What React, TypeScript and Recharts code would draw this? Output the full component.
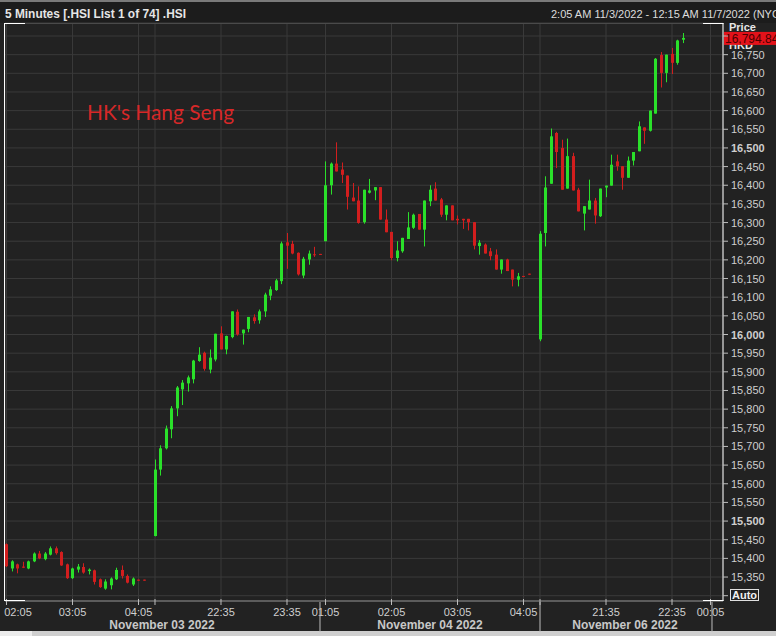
import React from 'react';
import { ComposedChart, Bar, XAxis, YAxis, CartesianGrid, ReferenceLine } from 'recharts';

const W = 776;
const H = 636;
const GREEN = '#2ae02a';
const RED = '#d21e1e';
const GRID = '#3a3a3a';
const TEXT = '#cfcfcf';
const FONT = '"Liberation Sans", Arial, sans-serif';

// 5-minute bars, slot index 0..123 (null = empty slot)
const opens: (number | null)[] = [
  15438, 15373, 15384, 15378, 15373, 15392, 15413, 15398, 15410, 15427,
  15417, 15384, 15347, 15370, 15377, 15366, 15368, 15344, 15319, 15328,
  15344, 15369, 15353, 15330, 15343, 15343, null, 15460, 15638, 15695,
  15746, 15802, 15853, 15869, 15880, 15929, 15951, 15906, 15933, 16003,
  15960, 15993, 16061, 16003, 16015, 16046, 16038, 16062, 16104, 16119,
  16143, 16247, 16243, 16219, 16158, 16201, 16215, 16216, 16250, 16400,
  16458, 16442, 16426, 16367, 16359, 16301, 16380, 16386, 16395, 16308,
  16275, 16205, 16223, 16256, 16286, 16323, 16281, 16357, 16391, 16362,
  16321, 16346, 16310, 16310, 16310, 16301, 16237, 16241, 16223, 16214,
  16174, 16201, 16174, 16147, 16157, 16163, null, 15987, 16272, 16404,
  16540, 16500, 16391, 16478, 16388, 16324, 16335, 16359, 16317, 16394,
  16399, 16464, 16451, 16420, 16466, 16491, 16555, 16546, 16592, 16749,
  16701, 16752, 16728, 16790,
];
const highs: (number | null)[] = [
  15440, 15395, 15386, 15391, 15394, 15416, 15420, 15417, 15432, 15432,
  15419, 15386, 15375, 15385, 15387, 15373, 15370, 15346, 15344, 15349,
  15375, 15381, 15357, 15349, 15343, 15343, null, 15665, 15703, 15756,
  15808, 15862, 15878, 15890, 15932, 15966, 15954, 15960, 16002, 16022,
  15997, 16062, 16067, 16013, 16047, 16054, 16067, 16112, 16129, 16149,
  16249, 16272, 16251, 16220, 16208, 16225, 16235, 16216, 16464, 16461,
  16515, 16461, 16426, 16406, 16397, 16388, 16417, 16395, 16395, 16335,
  16275, 16250, 16259, 16328, 16324, 16323, 16359, 16400, 16408, 16366,
  16346, 16346, 16319, 16310, 16310, 16301, 16253, 16244, 16232, 16228,
  16201, 16203, 16174, 16165, 16157, 16163, null, 16277, 16424, 16552,
  16543, 16522, 16525, 16487, 16393, 16344, 16415, 16366, 16391, 16399,
  16482, 16482, 16451, 16477, 16489, 16571, 16555, 16600, 16741, 16757,
  16750, 16768, 16790, 16808,
];
const lows: (number | null)[] = [
  15377, 15365, 15360, 15374, 15371, 15390, 15398, 15395, 15408, 15410,
  15380, 15345, 15345, 15362, 15359, 15357, 15330, 15321, 15316, 15317,
  15342, 15346, 15333, 15326, 15342, 15342, null, 15459, 15622, 15692,
  15722, 15781, 15811, 15847, 15869, 15927, 15903, 15896, 15928, 15960,
  15947, 15990, 15997, 15973, 16006, 16029, 16029, 16047, 16092, 16117,
  16135, 16176, 16215, 16158, 16151, 16187, 16208, 16215, 16250, 16375,
  16437, 16406, 16335, 16357, 16297, 16297, 16378, 16360, 16308, 16274,
  16199, 16196, 16219, 16256, 16283, 16281, 16236, 16344, 16359, 16315,
  16306, 16306, 16295, 16283, 16279, 16228, 16214, 16217, 16199, 16174,
  16163, 16170, 16129, 16129, 16156, 16162, null, 15982, 16236, 16404,
  16446, 16388, 16391, 16386, 16330, 16279, 16335, 16297, 16315, 16368,
  16399, 16439, 16388, 16420, 16453, 16491, 16511, 16544, 16592, 16662,
  16676, 16698, 16723, 16781,
];
const closes: (number | null)[] = [
  15379, 15392, 15373, 15375, 15392, 15413, 15400, 15413, 15427, 15414,
  15381, 15347, 15373, 15378, 15362, 15370, 15337, 15323, 15338, 15346,
  15369, 15353, 15335, 15346, 15342, 15342, null, 15638, 15695, 15748,
  15802, 15858, 15871, 15885, 15930, 15946, 15908, 15938, 16002, 15960,
  15996, 16062, 16000, 16013, 16047, 16036, 16062, 16107, 16121, 16145,
  16244, 16238, 16217, 16161, 16203, 16217, 16213, 16215, 16400, 16458,
  16437, 16428, 16369, 16357, 16299, 16388, 16386, 16395, 16308, 16274,
  16205, 16225, 16259, 16287, 16321, 16281, 16359, 16388, 16359, 16321,
  16346, 16306, 16306, 16306, 16301, 16238, 16246, 16217, 16210, 16174,
  16201, 16170, 16147, 16156, 16156, 16162, null, 16270, 16394, 16531,
  16489, 16388, 16478, 16386, 16330, 16344, 16359, 16319, 16391, 16399,
  16455, 16451, 16420, 16466, 16489, 16558, 16546, 16600, 16739, 16701,
  16750, 16728, 16788, 16794.84,
];

const timeTicks = [0, 12, 24, 27, 39, 51, 58, 70, 82, 94, 97, 109, 121, 128];
const timeLabels = ['02:05', '03:05', '04:05', '', '22:35', '23:35', '01:05', '02:05', '03:05', '04:05', '', '21:35', '22:35', '00:05'];
const dateCenters = [28.27, 77, 112.45];
const dateLabels = ['November 03 2022', 'November 04 2022', 'November 06 2022'];
const dayDividers = [57, 97, 128.27];
const priceTicks = [
  15300, 15350, 15400, 15450, 15500, 15550, 15600, 15650, 15700, 15750, 15800,
  15850, 15900, 15950, 16000, 16050, 16100, 16150, 16200, 16250, 16300, 16350,
  16400, 16450, 16500, 16550, 16600, 16650, 16700, 16750, 16800,
];
const boldPrices = [15500, 16000, 16500];
const lastPrice = 16794.84;

const data = opens.map((o, i) =>
  o == null
    ? { i, range: null }
    : { i, o, h: highs[i], l: lows[i], c: closes[i], range: [lows[i], highs[i]] }
);

const Candle = (props: any) => {
  const { x, y, width, height, payload } = props;
  if (!payload || payload.o == null) return null;
  const { o, h, l, c } = payload;
  const top0 = height >= 0 ? y : y + height;
  const hh = Math.abs(height);
  const span = h - l;
  const yOf = (v: number) => (span > 0 ? top0 + ((h - v) / span) * hh : top0);
  const color = c >= o ? GREEN : RED;
  const cx = x + width / 2;
  const bx = Math.round(cx - 1.5);
  const bt = yOf(Math.max(o, c));
  const bb = yOf(Math.min(o, c));
  return (
    <g>
      <rect x={bx + 1} y={top0} width={1} height={Math.max(hh, 1)} fill={color} />
      <rect x={bx} y={bt} width={3} height={Math.max(bb - bt, 1)} fill={color} />
    </g>
  );
};

const TimeTick = (props: any) => {
  const { x, payload } = props;
  const idx = timeTicks.indexOf(payload.value);
  const label = idx >= 0 ? timeLabels[idx] : '';
  // keep the first label inside the frame, as the terminal does
  const lx = Math.max(x, 18);
  return (
    <g>
      <line x1={x} x2={x} y1={599} y2={605} stroke="#bdbdbd" />
      {label && (
        <text x={lx} y={616} textAnchor="middle" fill={TEXT} fontSize={11} fontFamily={FONT}>
          {label}
        </text>
      )}
    </g>
  );
};

const DateTick = (props: any) => {
  const { x, payload } = props;
  const v = payload.value;
  if (dayDividers.includes(v)) {
    return <line x1={x} x2={x} y1={602} y2={632} stroke="#bdbdbd" />;
  }
  const idx = dateCenters.indexOf(v);
  return (
    <text x={x} y={629} textAnchor="middle" fill="#c8c8c8" fontSize={12} fontWeight="bold" fontFamily={FONT}>
      {dateLabels[idx]}
    </text>
  );
};

const PriceTick = (props: any) => {
  const { y, payload } = props;
  const v = payload.value;
  const show = v >= 15350 && v <= 16750;
  return (
    <g>
      <line x1={723} x2={728} y1={y} y2={y} stroke="#bdbdbd" />
      {show && (
        <text
          x={731}
          y={y + 4}
          fill={TEXT}
          fontSize={11}
          fontFamily={FONT}
          fontWeight={boldPrices.includes(v) ? 'bold' : 'normal'}
        >
          {v.toLocaleString('en-US')}
        </text>
      )}
    </g>
  );
};

const PriceTag = (props: any) => {
  const vb = props.viewBox || {};
  const x = (vb.x || 0) + (vb.width || 0) + 1;
  const y = vb.y || 0;
  return (
    <g>
      <rect x={x} y={y - 6} width={60} height={13} fill="#e3121a" />
      <text x={x + 1} y={y + 5} fill="#4a0000" fontSize={12} fontFamily={FONT}>
        {lastPrice.toLocaleString('en-US', { minimumFractionDigits: 2 })}
      </text>
    </g>
  );
};

export default function App() {
  return (
    <div style={{ position: 'absolute', left: 0, top: 0, width: W, height: H, background: '#222222', overflow: 'hidden' }}>
      <svg width={W} height={H} style={{ position: 'absolute', left: 0, top: 0 }}>
        <rect x={0} y={0} width={W} height={23} fill="#1c1c1c" />
        <rect x={0} y={0} width={W} height={2} fill="#7a7a7a" />
        <text x={5} y={18} fill="#e6e6e6" fontSize={12} fontWeight="bold" fontFamily={FONT} textLength={181} lengthAdjust="spacingAndGlyphs">
          5 Minutes [.HSI List 1 of 74] .HSI
        </text>
        <text x={551} y={18} fill="#dcdcdc" fontSize={11} fontFamily={FONT}>
          2:05 AM 11/3/2022 - 12:15 AM 11/7/2022 (NYC)
        </text>
        <text x={729} y={31} fill="#e6e6e6" fontSize={11} fontWeight="bold" fontFamily={FONT}>Price</text>
        <text x={729} y={49} fill="#e6e6e6" fontSize={11} fontWeight="bold" fontFamily={FONT}>HKD</text>
        <rect x={0} y={631} width={W} height={5} fill="#cfcfcf" />
        <rect x={0} y={631} width={32} height={5} fill="#ececec" />
      </svg>
      <div style={{ position: 'absolute', left: 0, top: 0 }}>
        <ComposedChart width={W} height={H} data={data} margin={{ top: 23, right: 0, bottom: 0, left: 5 }}>
          <CartesianGrid stroke={GRID} strokeWidth={1} fill="none" />
          <XAxis
            dataKey="i"
            type="number"
            domain={[-0.2727, 130.2727]}
            allowDataOverflow
            ticks={timeTicks}
            interval={0}
            height={14}
            tickLine={false}
            axisLine={{ stroke: '#8a8a8a' }}
            tick={<TimeTick />}
          />
          <XAxis
            xAxisId="date"
            dataKey="i"
            type="number"
            domain={[-0.2727, 130.2727]}
            allowDataOverflow
            ticks={[...dateCenters, ...dayDividers]}
            interval={0}
            height={21}
            tickLine={false}
            axisLine={false}
            tick={<DateTick />}
          />
          <YAxis
            orientation="right"
            type="number"
            domain={[15285.8, 16834.8]}
            allowDataOverflow
            ticks={priceTicks}
            interval={0}
            width={53}
            tickLine={false}
            axisLine={{ stroke: '#ffffff' }}
            tick={<PriceTick />}
          />
          <Bar dataKey="range" barSize={4} isAnimationActive={false} shape={<Candle />} />
          <ReferenceLine y={lastPrice} stroke="none" label={<PriceTag />} />
        </ComposedChart>
      </div>
      <svg width={W} height={H} style={{ position: 'absolute', left: 0, top: 0, pointerEvents: 'none' }}>
        <line x1={25} x2={703} y1={23.5} y2={23.5} stroke="#4a4a4a" />
        <line x1={4.5} x2={4.5} y1={23} y2={601} stroke="#ffffff" />
        <line x1={4} x2={25} y1={23.5} y2={23.5} stroke="#ffffff" />
        <line x1={703} x2={723.5} y1={23.5} y2={23.5} stroke="#ffffff" />
        <line x1={4} x2={25} y1={600.5} y2={600.5} stroke="#ffffff" />
        <line x1={703} x2={723.5} y1={600.5} y2={600.5} stroke="#ffffff" />
        <rect x={730.5} y={589.5} width={28} height={11} fill="#222222" stroke="#e0e0e0" />
        <text x={744.5} y={599} textAnchor="middle" fill="#f0f0f0" fontSize={11} fontWeight="bold" fontFamily={FONT}>Auto</text>
        <text x={87} y={119.5} fill="#d62828" fontSize={22} fontFamily="Lato, 'Open Sans', sans-serif" textLength={147} lengthAdjust="spacingAndGlyphs">
          HK's Hang Seng
        </text>
      </svg>
    </div>
  );
}
